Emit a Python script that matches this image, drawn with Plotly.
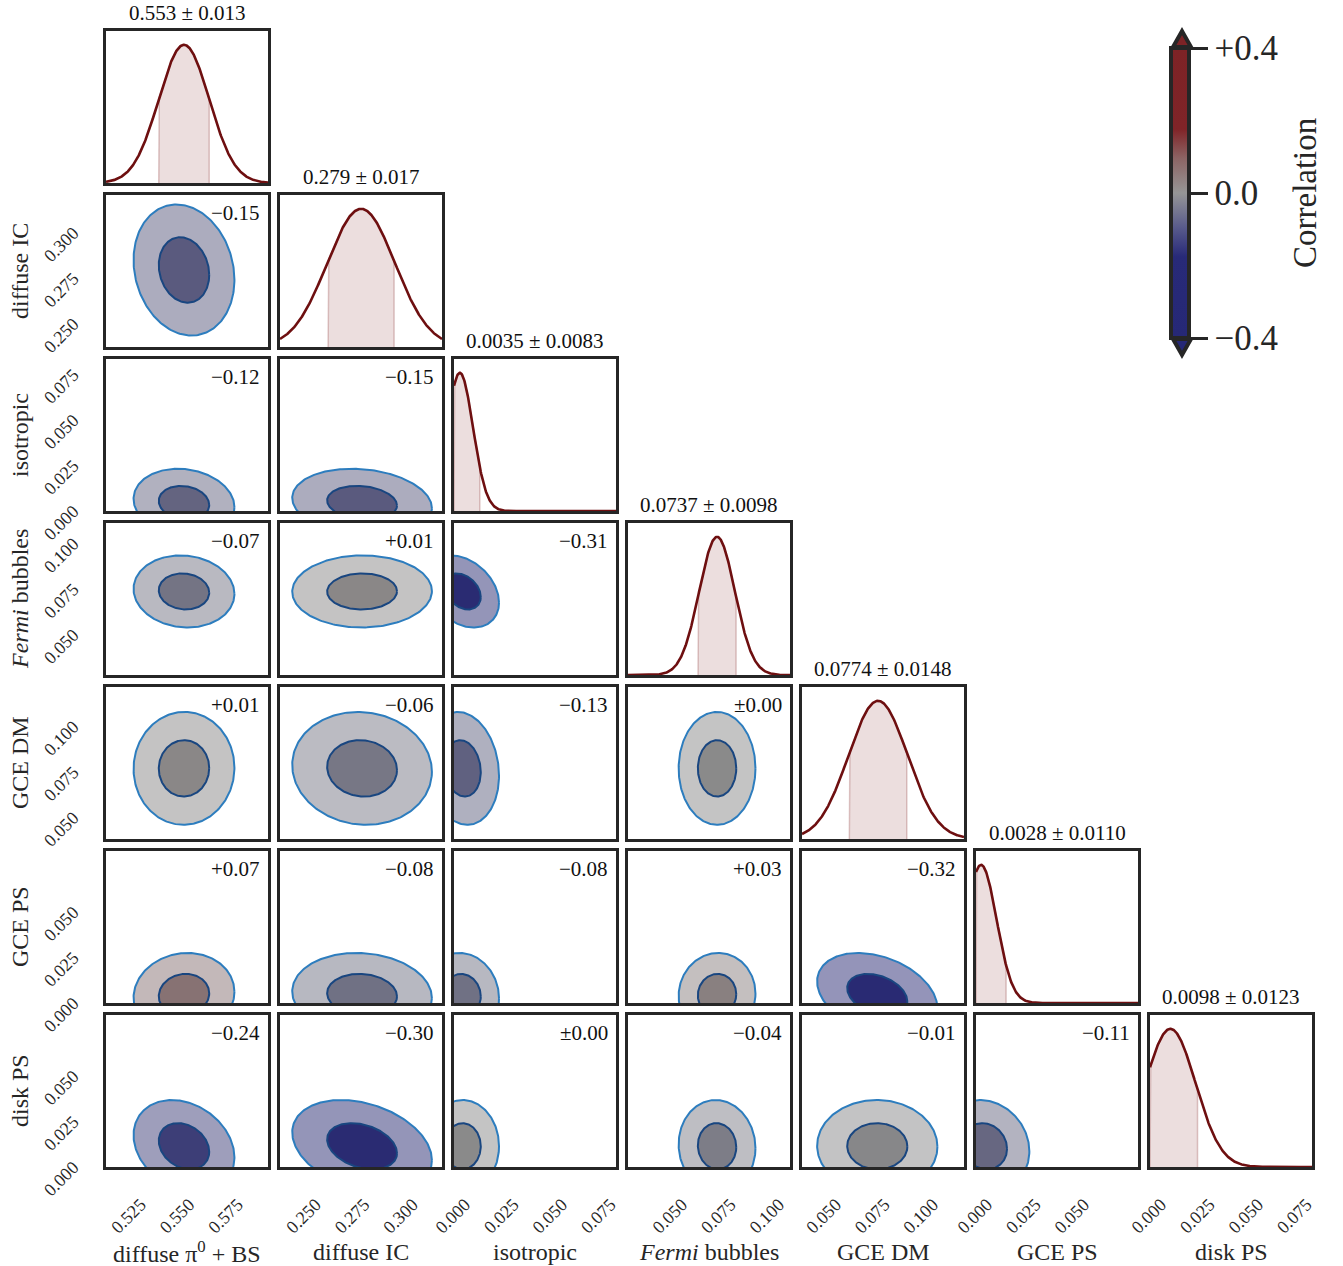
import numpy as np
import plotly.graph_objects as go

# ---------------- data ----------------
param_labels = ["diffuse π<sup>0</sup> + BS", "diffuse IC", "isotropic",
                "<i>Fermi</i> bubbles", "GCE DM", "GCE PS", "disk PS"]
post_mean = [0.553, 0.279, 0.0035, 0.0737, 0.0774, 0.0028, 0.0098]
post_std = [0.013, 0.017, 0.0083, 0.0098, 0.0148, 0.0110, 0.0123]
title_digits = [3, 3, 4, 4, 4, 4, 4]

# 1D marginal curve (peak location / width)
marg_peak = [0.553, 0.279, 0.0030, 0.0737, 0.0774, 0.0026, 0.0105]
marg_width = [0.0130, 0.0175, 0.0068, 0.0092, 0.0152, 0.0080, 0.0130]
band_lo = [0.540, 0.262, 0.0, 0.0639, 0.0626, 0.0, 0.0]
band_hi = [0.566, 0.296, 0.0133, 0.0835, 0.0922, 0.0155, 0.0245]

cont_center = [0.553, 0.2795, 0.0044, 0.0737, 0.0770, 0.0045, 0.0114]
cont_sigma = [0.0130, 0.0180, 0.0094, 0.0099, 0.0155, 0.0115, 0.0127]

# lower-triangle correlation coefficients (row i, columns 0..i-1)
corr_rows = [
    [],
    [-0.15],
    [-0.12, -0.15],
    [-0.07, 0.01, -0.31],
    [0.01, -0.06, -0.13, 0.00],
    [0.07, -0.08, -0.08, 0.03, -0.32],
    [-0.24, -0.30, 0.00, -0.04, -0.01, -0.11],
]

axis_lo = [0.5128, 0.2372, 0.0, 0.0278, 0.0382, 0.0, 0.0]
axis_span = [0.0835] * 7
xtick_vals = [[0.525, 0.550, 0.575], [0.250, 0.275, 0.300], [0.000, 0.025, 0.050, 0.075],
              [0.050, 0.075, 0.100], [0.050, 0.075, 0.100], [0.000, 0.025, 0.050],
              [0.000, 0.025, 0.050, 0.075]]
ytick_vals = [[], [0.250, 0.275, 0.300], [0.000, 0.025, 0.050, 0.075],
              [0.050, 0.075, 0.100], [0.050, 0.075, 0.100], [0.000, 0.025, 0.050],
              [0.000, 0.025, 0.050]]

cbar_ticks = [-0.4, 0.0, 0.4]
cbar_ticktext = ["−0.4", "0.0", "+0.4"]
cbar_title = "Correlation"

# ---------------- style ----------------
W, H = 1343, 1266
FONT = "Liberation Serif"
FRAME = "#262626"
N = 7
col_left, pw, gapx = 106, 162, 174
row_top, ph, gapy = 31, 152, 164

# colour mapping for contour fills (correlation -> rgb)
cm_vals = [-0.4, -0.3, 0.0, 0.3, 0.4]
cm_rgb = [(38, 40, 118), (42, 43, 114), (138, 138, 138), (125, 35, 38), (128, 34, 38)]


def corr_color(r):
    r = max(-0.4, min(0.4, r))
    out = []
    for c in range(3):
        out.append(np.interp(r, cm_vals, [p[c] for p in cm_rgb]))
    return tuple(int(round(v)) for v in out)


cbar_scale = [[0.0, "rgb(38,40,118)"], [0.28, "rgb(40,42,120)"], [0.38, "rgb(88,90,140)"],
              [0.5, "rgb(150,150,150)"], [0.62, "rgb(140,100,100)"], [0.72, "rgb(128,36,40)"],
              [1.0, "rgb(125,35,38)"]]


def corr_text(r):
    if abs(r) < 0.005:
        return "±0.00"
    return ("+" if r > 0 else "−") + f"{abs(r):.2f}"


fig = go.Figure()
layout = dict(width=W, height=H, margin=dict(l=0, r=0, t=0, b=0, autoexpand=False),
              paper_bgcolor="white", plot_bgcolor="white", showlegend=False,
              font=dict(family=FONT, color="#1a1a1a"))
annotations = []
shapes = []

k = 0
theta = np.linspace(0, 2 * np.pi, 240)
for i in range(N):
    for j in range(i + 1):
        k += 1
        xn = "x" if k == 1 else f"x{k}"
        yn = "y" if k == 1 else f"y{k}"
        x0 = (col_left + j * gapx) / W
        x1 = (col_left + j * gapx + pw) / W
        y1 = 1 - (row_top + i * gapy) / H
        y0 = 1 - (row_top + i * gapy + ph) / H
        xr = [axis_lo[j], axis_lo[j] + axis_span[j]]
        if i == j:
            yr = [0, 1.1]
        else:
            yr = [axis_lo[i], axis_lo[i] + axis_span[i]]
        xaxis = dict(domain=[x0, x1], anchor=yn, range=xr, showgrid=False, zeroline=False,
                     showline=True, mirror=True, linewidth=3, linecolor=FRAME, ticks="",
                     showticklabels=(i == N - 1), tickvals=xtick_vals[j],
                     ticktext=[f"{v:.3f}" for v in xtick_vals[j]], tickangle=-45,
                     tickfont=dict(size=18, family=FONT, color="#262626"),
                     ticklabelshift=11, ticklabelstandoff=17)
        yaxis = dict(domain=[y0, y1], anchor=xn, range=yr, showgrid=False, zeroline=False,
                     showline=True, mirror=True, linewidth=3, linecolor=FRAME, ticks="")
        if j == 0 and i > 0:
            yaxis.update(showticklabels=True, tickvals=ytick_vals[i],
                         ticktext=[f"{v:.3f}" for v in ytick_vals[i]],
                         tickangle=-45, tickfont=dict(size=18, family=FONT, color="#262626"),
                         ticklabelshift=-2, ticklabelstandoff=26)
        else:
            yaxis.update(showticklabels=False)
        layout["xaxis" if k == 1 else f"xaxis{k}"] = xaxis
        layout["yaxis" if k == 1 else f"yaxis{k}"] = yaxis

        if i == j:
            xs = np.linspace(xr[0], xr[1], 400)
            ys = np.exp(-0.5 * ((xs - marg_peak[j]) / marg_width[j]) ** 2)
            xb = np.linspace(band_lo[j], band_hi[j], 200)
            yb = np.exp(-0.5 * ((xb - marg_peak[j]) / marg_width[j]) ** 2)
            xb = np.concatenate([[band_lo[j]], xb, [band_hi[j]]])
            yb = np.concatenate([[0.0], yb, [0.0]])
            fig.add_trace(go.Scatter(x=xb, y=yb, mode="lines", fill="toself",
                                     fillcolor="rgba(150,70,70,0.18)",
                                     line=dict(color="rgba(150,70,70,0.3)", width=1.5),
                                     xaxis=xn, yaxis=yn, hoverinfo="skip"))
            fig.add_trace(go.Scatter(x=xs, y=ys, mode="lines",
                                     line=dict(color="#6e0f10", width=2.6),
                                     xaxis=xn, yaxis=yn, hoverinfo="skip"))
            d = title_digits[j]
            annotations.append(dict(text=f"{post_mean[j]:.{d}f} ± {post_std[j]:.{d}f}",
                                    xref=f"{xn} domain", yref=f"{yn} domain", x=0.5, y=1,
                                    xanchor="center", yanchor="bottom", yshift=4,
                                    showarrow=False, font=dict(size=21, family=FONT, color="#111")))
        else:
            r = corr_rows[i][j]
            mx, sx = cont_center[j], cont_sigma[j]
            my, sy = cont_center[i], cont_sigma[i]
            rgb = corr_color(r)
            for rad, alpha, lcol in [(2.0, 0.5, "rgb(45,125,190)"), (1.0, 1.0, "rgb(25,70,128)")]:
                ex = mx + rad * sx * np.cos(theta)
                ey = my + rad * sy * (r * np.cos(theta) + np.sqrt(1 - r * r) * np.sin(theta))
                fig.add_trace(go.Scatter(x=ex, y=ey, mode="lines", fill="toself",
                                         fillcolor=f"rgba({rgb[0]},{rgb[1]},{rgb[2]},{alpha})",
                                         line=dict(color=lcol, width=2),
                                         xaxis=xn, yaxis=yn, hoverinfo="skip"))
            annotations.append(dict(text=corr_text(r), xref=f"{xn} domain", yref=f"{yn} domain",
                                    x=1, y=1, xanchor="right", yanchor="top", xshift=-6, yshift=-4,
                                    showarrow=False, font=dict(size=21, family=FONT, color="#111")))

# axis titles
for j in range(N):
    xc = (col_left + j * gapx + pw / 2) / W
    annotations.append(dict(text=param_labels[j], xref="paper", yref="paper", x=xc,
                            y=1 - 1252 / H, xanchor="center", yanchor="middle", showarrow=False,
                            font=dict(size=24, family=FONT, color="#262626")))
for i in range(1, N):
    yc = 1 - (row_top + i * gapy + ph / 2) / H
    annotations.append(dict(text=param_labels[i], xref="paper", yref="paper", x=20 / W, y=yc,
                            xanchor="center", yanchor="middle", textangle=-90, showarrow=False,
                            font=dict(size=24, family=FONT, color="#262626")))

# colour bar
fig.add_trace(go.Scatter(x=[post_mean[0]], y=[-1], mode="markers", xaxis="x", yaxis="y",
                         hoverinfo="skip",
                         marker=dict(size=1, color=[0.0], cmin=-0.4, cmax=0.4,
                                     colorscale=cbar_scale, showscale=True,
                                     colorbar=dict(x=1171 / W, xanchor="left", xpad=0,
                                                   y=1 - 193 / H, yanchor="middle", ypad=0,
                                                   lenmode="pixels", len=290,
                                                   thicknessmode="pixels", thickness=18,
                                                   outlinewidth=4, outlinecolor=FRAME,
                                                   ticks="outside", ticklen=17, tickwidth=3,
                                                   tickcolor=FRAME, tickvals=cbar_ticks,
                                                   ticktext=cbar_ticktext,
                                                   tickfont=dict(size=35, family=FONT, color="#262626")))))
annotations.append(dict(text=cbar_title, xref="paper", yref="paper", x=1305 / W, y=1 - 193 / H,
                        xanchor="center", yanchor="middle", textangle=-90, showarrow=False,
                        font=dict(size=33, family=FONT, color="#262626")))


def px(xp):
    return xp / W


def py(yp):
    return 1 - yp / H


cb_l, cb_r, cb_c = 1173, 1191, 1182
shapes.append(dict(type="path", xref="paper", yref="paper",
                   path=f"M {px(cb_l)} {py(47)} L {px(cb_c)} {py(31)} L {px(cb_r)} {py(47)} Z",
                   fillcolor="rgb(125,35,38)", line=dict(color=FRAME, width=4), layer="above"))
shapes.append(dict(type="path", xref="paper", yref="paper",
                   path=f"M {px(cb_l)} {py(339)} L {px(cb_c)} {py(355)} L {px(cb_r)} {py(339)} Z",
                   fillcolor="rgb(38,40,118)", line=dict(color=FRAME, width=4), layer="above"))

layout["annotations"] = annotations
layout["shapes"] = shapes
fig.update_layout(**layout)
fig.write_html("out.html")
